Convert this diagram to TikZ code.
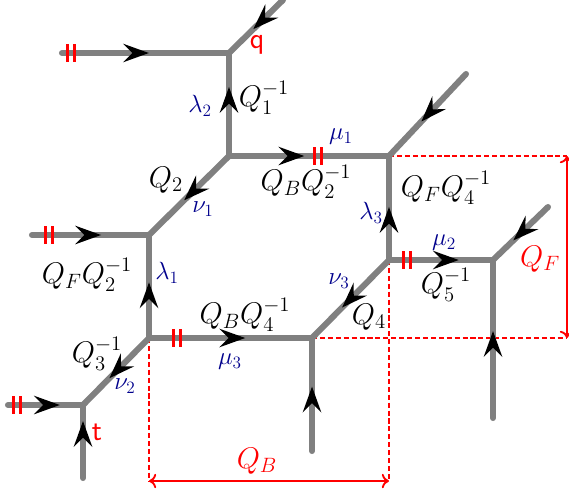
\documentclass[tikz,border=0pt]{standalone}
\usepackage{tikz}
\usetikzlibrary{arrows.meta, decorations.markings}
\usepackage{amsmath}

\tikzset{
  leg/.style={draw=gray, line width=4.2pt, line cap=round},
  flow/.style={postaction={decorate, decoration={markings,
      mark=at position #1 with {\arrow{Stealth[length=18pt, width=13pt, inset=6.5pt, line width=0pt, color=black]}}}}},
  cut/.style={postaction={decorate, decoration={markings,
      mark=at position #1 with {\draw[red, line width=2pt, line cap=butt] (-2.4pt,-6.2pt) -- (-2.4pt,6.2pt) (2.4pt,-6.2pt) -- (2.4pt,6.2pt);}}}},
  guide/.style={red, line width=1pt, dash pattern=on 3.5pt off 2pt},
  span/.style={red, line width=1.3pt, arrows={To[length=5pt, width=10pt]-To[length=5pt, width=10pt]}},
  kahler/.style={font=\huge, inner sep=0pt},
  param/.style={font=\LARGE, text=blue!55!black, inner sep=0pt},
  endlab/.style={font=\huge\sffamily, text=red, inner sep=0pt},
}

\begin{document}
\begin{tikzpicture}[x=0.0244cm, y=-0.0244cm]
        \useasboundingbox (0,0) rectangle (569,490);

        % vertices of the web
        \coordinate (v1) at (229,53);
        \coordinate (v2) at (229,156);
        \coordinate (v3) at (389,156);
        \coordinate (v4) at (149,235);
        \coordinate (v5) at (149,338);
        \coordinate (v6) at (83,405);
        \coordinate (v7) at (312,338);
        \coordinate (v8) at (389,260);
        \coordinate (v9) at (493,260);

        % outer ends
        \coordinate (e1) at (62,53);
        \coordinate (e2) at (283,0);
        \coordinate (e3) at (466,74);
        \coordinate (e4) at (32,235);
        \coordinate (e5) at (8,405);
        \coordinate (e6) at (83,478);
        \coordinate (e7) at (312,451);
        \coordinate (e8) at (548,207);
        \coordinate (e9) at (493,418);

        % corners of the red frame
        \coordinate (d1) at (567,156);
        \coordinate (d2) at (567,338);
        \coordinate (d3) at (149,481);
        \coordinate (d4) at (389,481);

        % dashed frame
        \draw[guide] (v3) -- (d1);
        \draw[guide] (v7) -- (d2);
        \draw[guide] (v5) -- (d3);
        \draw[guide] (v8) -- (d4);

        % legs
        \draw[leg, flow=0.52, cut=0.054] (e1) -- (v1);
        \draw[leg, flow=0.55] (e2) -- (v1);
        \draw[leg, flow=0.67] (v2) -- (v1);
        \draw[leg, flow=0.47, cut=0.556] (v2) -- (v3);
        \draw[leg, flow=0.58] (e3) -- (v3);
        \draw[leg, flow=0.56] (v2) -- (v4);
        \draw[leg, flow=0.59, cut=0.145] (e4) -- (v4);
        \draw[leg, flow=0.54] (v5) -- (v4);
        \draw[leg, flow=0.6] (v5) -- (v6);
        \draw[leg, flow=0.69, cut=0.12] (e5) -- (v6);
        \draw[leg, flow=0.78] (e6) -- (v6);
        \draw[leg, flow=0.59, cut=0.17] (v5) -- (v7);
        \draw[leg, flow=0.57] (e7) -- (v7);
        \draw[leg, flow=0.61] (v8) -- (v7);
        \draw[leg, flow=0.51] (v8) -- (v3);
        \draw[leg, flow=0.67, cut=0.17] (v8) -- (v9);
        \draw[leg, flow=0.63] (e8) -- (v9);
        \draw[leg, flow=0.55] (e9) -- (v9);

        % red sizes
        \draw[span] (d1) -- (d2);
        \draw[span] (d3) -- (d4);
        \node[font=\huge, text=red, inner sep=0pt] (qf) at (540,259) {$Q_F$};
        \node[font=\huge, text=red, inner sep=0pt] (qb) at (257,461) {$Q_B$};

        % end labels
        \node[endlab] (lq) at (257,45) {q};
        \node[endlab] (lt) at (97,432) {t};

        % Kahler parameters
        \node[kahler] (k1) at (264,98) {$Q_1^{-1}$};
        \node[kahler] (k2) at (166,180) {$Q_2$};
        \node[kahler] (k3) at (306,182) {$Q_BQ_2^{-1}$};
        \node[kahler] (k4) at (446,188) {$Q_FQ_4^{-1}$};
        \node[kahler] (k5) at (87,275) {$Q_FQ_2^{-1}$};
        \node[kahler] (k6) at (97,354) {$Q_3^{-1}$};
        \node[kahler] (k7) at (245,315) {$Q_BQ_4^{-1}$};
        \node[kahler] (k8) at (369,317) {$Q_4$};
        \node[kahler] (k9) at (446,285) {$Q_5^{-1}$};

        % partitions
        \node[param] (lam1) at (167,273) {$\lambda_1$};
        \node[param] (lam2) at (200,106) {$\lambda_2$};
        \node[param] (lam3) at (371,213) {$\lambda_3$};
        \node[param] (mu1) at (341,137) {$\mu_1$};
        \node[param] (mu2) at (444,243) {$\mu_2$};
        \node[param] (mu3) at (230,362) {$\mu_3$};
        \node[param] (nu1) at (203,209) {$\nu_1$};
        \node[param] (nu2) at (125,386) {$\nu_2$};
        \node[param] (nu3) at (339,281) {$\nu_3$};
    \end{tikzpicture}
\end{document}
